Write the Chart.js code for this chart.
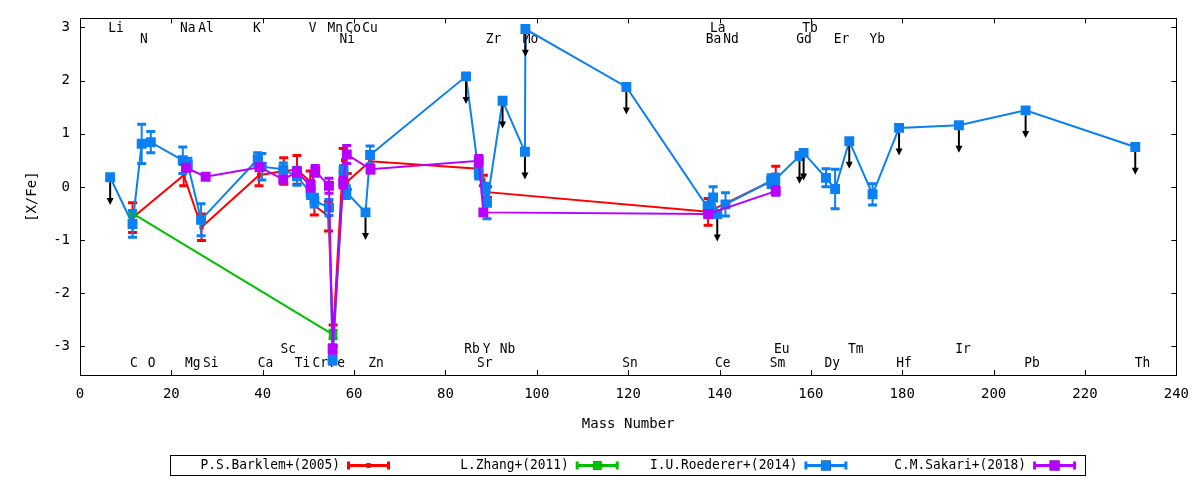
<!DOCTYPE html>
<html>
<head>
<meta charset="utf-8">
<script src="https://cdn.jsdelivr.net/npm/chart.js@4.4.0/dist/chart.umd.min.js"></script>
<style>
html, body { margin: 0; padding: 0; background: #fff; }
#wrap { width: 1200px; height: 480px; }
</style>
</head>
<body>
<div id="wrap"><canvas id="AbundancePattern"></canvas></div>
<script>
// axis ticks
var xTicks = [0, 20, 40, 60, 80, 100, 120, 140, 160, 180, 200, 220, 240];
var yTicks = [-3, -2, -1, 0, 1, 2, 3];

// P.S.Barklem+(2005)
var barklemMass = [11.5, 22.7, 26.6, 39.2, 44.6, 47.5, 50.4, 51.3, 54.4, 55.4, 57.6, 58.5, 63.5, 87.2, 88.3, 89.2, 137.5, 152.3];
var barklemVal  = [-0.58, 0.22, -0.76, 0.22, 0.30, 0.32, 0.10, -0.35, -0.55, -2.80, 0.50, 0.10, 0.48, 0.34, 0.12, -0.10, -0.47, 0.15];
var barklemErr  = [0.28, 0.20, 0.25, 0.20, 0.25, 0.27, 0.20, 0.18, 0.28, 0.20, 0.22, 0.15, 0.00, 0.05, 0.10, 0.10, 0.25, 0.24];

// L.Zhang+(2011)
var zhangMass = [11.5, 55.4];
var zhangVal  = [-0.50, -2.78];
var zhangErr  = [0.05, 0.08];

// I.U.Roederer+(2014)  (limit = 1 -> upper limit)
var roedererMass = [6.6, 11.5, 13.5, 15.5, 22.5, 23.6, 26.5, 38.9, 39.8, 44.5, 47.5, 50.5, 51.3, 54.5, 55.3, 57.7, 58.3, 62.5, 63.5, 84.5, 87.3, 88.8, 89.1, 92.5, 97.4, 97.5, 119.6, 137.4, 138.6, 139.5, 141.3, 151.3, 152.2, 157.5, 158.4, 163.3, 165.3, 168.4, 173.5, 179.3, 192.4, 207.0, 231.0];
var roedererVal  = [0.18, -0.70, 0.81, 0.84, 0.50, 0.42, -0.62, 0.52, 0.38, 0.33, 0.20, -0.12, -0.26, -0.39, -3.26, 0.30, -0.10, -0.48, 0.60, 2.08, 0.25, -0.05, -0.30, 1.62, 0.66, 2.97, 1.88, -0.39, -0.20, -0.51, -0.33, 0.11, 0.14, 0.58, 0.64, 0.17, -0.04, 0.86, -0.14, 1.11, 1.16, 1.44, 0.75];
var roedererErr  = [0, 0.25, 0.37, 0.20, 0.25, 0.12, 0.30, 0.12, 0.25, 0.12, 0.17, 0.10, 0.12, 0.15, 0.08, 0.10, 0.12, 0, 0.17, 0, 0.10, 0.12, 0.30, 0, 0, 0, 0, 0.10, 0.20, 0, 0.22, 0.12, 0.10, 0, 0, 0.17, 0.37, 0, 0.20, 0, 0, 0, 0];
var roedererLimit = [1,0,0,0,0,0,0,0,0,0, 0,0,0,0,0,0,0,1,0,1, 0,0,0,1,1,1,1,0,0,1, 0,0,0,1,1,0,0,1,0,1, 1,1,1];

// C.M.Sakari+(2018)
var sakariMass = [23.2, 27.5, 39.3, 44.5, 47.5, 50.5, 51.5, 54.5, 55.3, 57.6, 58.4, 63.6, 87.3, 88.3, 137.5, 152.3];
var sakariVal  = [0.36, 0.19, 0.37, 0.14, 0.28, 0.02, 0.30, 0.02, -3.05, 0.08, 0.61, 0.33, 0.49, -0.48, -0.51, -0.08];
var sakariErr  = [0, 0, 0.05, 0.05, 0.08, 0.10, 0.10, 0.14, 0.08, 0.10, 0.17, 0.07, 0.10, 0.05, 0.05, 0.08];

// element names along the top and bottom of the plot
var labelText = ["Li","Na","Al","K","V","Mn","Co","Cu","La","Tb",
                 "N","Ni","Zr","Mo","Ba","Nd","Gd","Er","Yb",
                 "Sc","Rb","Y","Nb","Eu","Tm","Ir",
                 "C","O","Mg","Si","Ca","Ti","Cr","Fe","Zn","Sr","Sn","Ce","Sm","Dy","Hf","Pb","Th"];
var labelMass = [7.9, 23.6, 27.6, 38.7, 50.9, 55.9, 59.8, 63.5, 139.6, 159.8,
                 14.0, 58.5, 90.5, 98.6, 138.7, 142.5, 158.5, 166.7, 174.5,
                 45.6, 85.8, 89.0, 93.6, 153.6, 169.8, 193.3,
                 11.8, 15.7, 24.7, 28.6, 40.6, 48.7, 52.6, 56.3, 64.8, 88.6, 120.4, 140.7, 152.7, 164.7, 180.4, 208.4, 232.6];
var labelRow  = [0,0,0,0,0,0,0,0,0,0, 1,1,1,1,1,1,1,1,1, 2,2,2,2,2,2,2, 3,3,3,3,3,3,3,3,3,3,3,3,3,3,3,3,3];
var labelRowY = [2.98, 2.78, -3.06, -3.32];

var monoFont = '"DejaVu Sans Mono", monospace';
var arrowDrop = 0.52;

function toPoints(mass, val) {
  return mass.map(function(m, i) { return {x: m, y: val[i]}; });
}

function squeezedText(ctx, text, x, y, align) {
  ctx.save();
  ctx.translate(x, y);
  ctx.scale(0.92, 1);
  ctx.textAlign = align;
  ctx.fillText(text, 0, 0);
  ctx.restore();
}

var gnuplotDecor = {
  id: 'gnuplotDecor',
  beforeDatasetsDraw: function(chart) {
    var ctx = chart.ctx, xs = chart.scales.x, ys = chart.scales.y;
    ctx.save();
    ctx.fillStyle = '#000';
    ctx.font = '14px ' + monoFont;
    ctx.textBaseline = 'middle';
    for (var i = 0; i < labelText.length; i++) {
      squeezedText(ctx, labelText[i], xs.getPixelForValue(labelMass[i]), ys.getPixelForValue(labelRowY[labelRow[i]]), 'center');
    }
    ctx.restore();
  },
  beforeDatasetDraw: function(chart, args) {
    var ds = chart.data.datasets[args.index];
    var ctx = chart.ctx, xs = chart.scales.x, ys = chart.scales.y;
    ctx.save();
    ctx.strokeStyle = ds.borderColor;
    ds.data.forEach(function(p, i) {
      var e = ds.errors[i];
      if (!e || (ds.limits && ds.limits[i])) return;
      var px = xs.getPixelForValue(p.x);
      var top = ys.getPixelForValue(p.y + e), bot = ys.getPixelForValue(p.y - e);
      ctx.lineWidth = 2;
      ctx.beginPath();
      ctx.moveTo(px, top); ctx.lineTo(px, bot);
      ctx.stroke();
      ctx.lineWidth = 3;
      ctx.beginPath();
      ctx.moveTo(px - 4.5, top); ctx.lineTo(px + 4.5, top);
      ctx.moveTo(px - 4.5, bot); ctx.lineTo(px + 4.5, bot);
      ctx.stroke();
    });
    ctx.restore();
  },
  afterDatasetDraw: function(chart, args) {
    var ds = chart.data.datasets[args.index];
    if (!ds.limits) return;
    var ctx = chart.ctx, xs = chart.scales.x, ys = chart.scales.y;
    ctx.save();
    ctx.strokeStyle = '#000';
    ctx.fillStyle = '#000';
    ctx.lineWidth = 2;
    ds.data.forEach(function(p, i) {
      if (!ds.limits[i]) return;
      var px = xs.getPixelForValue(p.x);
      var py = ys.getPixelForValue(p.y) + 5;
      var tip = ys.getPixelForValue(p.y - arrowDrop);
      ctx.beginPath();
      ctx.moveTo(px, py); ctx.lineTo(px, tip - 5);
      ctx.stroke();
      ctx.beginPath();
      ctx.moveTo(px - 3.5, tip - 7); ctx.lineTo(px + 3.5, tip - 7); ctx.lineTo(px, tip);
      ctx.closePath();
      ctx.fill();
    });
    ctx.restore();
  },
  afterDatasetsDraw: function(chart) {
    var ctx = chart.ctx, a = chart.chartArea, xs = chart.scales.x, ys = chart.scales.y;
    ctx.save();
    ctx.strokeStyle = '#000';
    ctx.lineWidth = 1;
    ctx.beginPath();
    xTicks.forEach(function(v) {
      var px = Math.round(xs.getPixelForValue(v)) + 0.5;
      ctx.moveTo(px, a.bottom); ctx.lineTo(px, a.bottom - 5);
      ctx.moveTo(px, a.top); ctx.lineTo(px, a.top + 5);
    });
    yTicks.forEach(function(v) {
      var py = Math.round(ys.getPixelForValue(v)) + 0.5;
      ctx.moveTo(a.left, py); ctx.lineTo(a.left + 5, py);
      ctx.moveTo(a.right, py); ctx.lineTo(a.right - 5, py);
    });
    ctx.stroke();
    ctx.strokeRect(Math.round(a.left) + 0.5, Math.round(a.top) + 0.5, Math.round(a.right - a.left), Math.round(a.bottom - a.top));
    ctx.restore();
  },
  afterDraw: function(chart) {
    // gnuplot style key box under the plot
    var ctx = chart.ctx;
    ctx.save();
    ctx.strokeStyle = '#000';
    ctx.lineWidth = 1;
    ctx.strokeRect(170.5, 455.5, 915, 20);
    ctx.font = '14px ' + monoFont;
    ctx.textBaseline = 'middle';
    ctx.fillStyle = '#000';
    chart.data.datasets.forEach(function(ds, i) {
      var textEnd = 340 + i * 228.7;
      var y = 465.5;
      ctx.fillStyle = '#000';
      squeezedText(ctx, ds.label, textEnd, y, 'right');
      var x0 = textEnd + 7, x1 = textEnd + 50, xm = (x0 + x1) / 2;
      ctx.strokeStyle = ds.borderColor;
      ctx.lineWidth = 3;
      ctx.beginPath();
      ctx.moveTo(x0, y); ctx.lineTo(x1, y);
      ctx.moveTo(x0 + 1.5, y - 4); ctx.lineTo(x0 + 1.5, y + 4);
      ctx.moveTo(x1 - 1.5, y - 4); ctx.lineTo(x1 - 1.5, y + 4);
      ctx.stroke();
      Chart.helpers.drawPoint(ctx, {pointStyle: 'rect', radius: ds.pointRadius, borderWidth: 0}, xm, y);
      ctx.fillStyle = ds.borderColor;
      var s = ds.pointRadius * Math.SQRT1_2;
      ctx.fillRect(xm - s, y - s, 2 * s, 2 * s);
    });
    ctx.restore();
  }
};

var ctx = document.getElementById("AbundancePattern").getContext("2d");
var myChart = new Chart(ctx, {
  type: "line",
  data: {
    datasets: [
      {
        label: "P.S.Barklem+(2005)",
        data: toPoints(barklemMass, barklemVal),
        errors: barklemErr,
        borderColor: "#ff0000",
        backgroundColor: "#ff0000",
        pointRadius: 3,
        order: 3,
      },
      {
        label: "L.Zhang+(2011)",
        data: toPoints(zhangMass, zhangVal),
        errors: zhangErr,
        borderColor: "#00c000",
        backgroundColor: "#00c000",
        pointRadius: 6,
        order: 2,
      },
      {
        label: "I.U.Roederer+(2014)",
        data: toPoints(roedererMass, roedererVal),
        errors: roedererErr,
        limits: roedererLimit,
        borderColor: "#0a80f2",
        backgroundColor: "#0a80f2",
        pointRadius: 7,
        order: 1,
      },
      {
        label: "C.M.Sakari+(2018)",
        data: toPoints(sakariMass, sakariVal),
        errors: sakariErr,
        borderColor: "#b800ff",
        backgroundColor: "#b800ff",
        pointRadius: 7,
        order: 0,
      },
    ],
  },
  options: {
    responsive: true,
    maintainAspectRatio: false,
    animation: false,
    devicePixelRatio: 1,
    layout: { padding: { left: 0, right: 22, top: 17, bottom: 45 } },
    elements: {
      line: { borderWidth: 2, tension: 0, fill: false },
      point: { pointStyle: "rect", borderWidth: 0, hoverRadius: 7 },
    },
    plugins: {
      legend: { display: false },
      tooltip: { enabled: false },
    },
    scales: {
      x: {
        type: "linear",
        min: 0,
        max: 240,
        afterBuildTicks: function(s) { s.ticks = xTicks.map(function(v) { return {value: v}; }); },
        afterFit: function(s) { s.height = 60; },
        grid: { display: false, drawTicks: false },
        border: { display: false },
        ticks: { color: "#000", font: { family: monoFont, size: 14 }, padding: 11, maxRotation: 0, autoSkip: false },
        title: { display: true, text: "Mass Number", color: "#000", font: { family: monoFont, size: 14 }, padding: { top: 0, bottom: 2 } },
      },
      y: {
        type: "linear",
        min: -3.54,
        max: 3.17,
        afterBuildTicks: function(s) { s.ticks = yTicks.map(function(v) { return {value: v}; }); },
        afterFit: function(s) { s.width = 80; },
        grid: { display: false, drawTicks: false },
        border: { display: false },
        ticks: { color: "#000", font: { family: monoFont, size: 14 }, padding: 10 },
        title: { display: true, text: "[X/Fe]", color: "#000", font: { family: monoFont, size: 14 }, padding: { top: 24, bottom: 0 } },
      },
    },
  },
  plugins: [gnuplotDecor],
});
</script>
</body>
</html>
